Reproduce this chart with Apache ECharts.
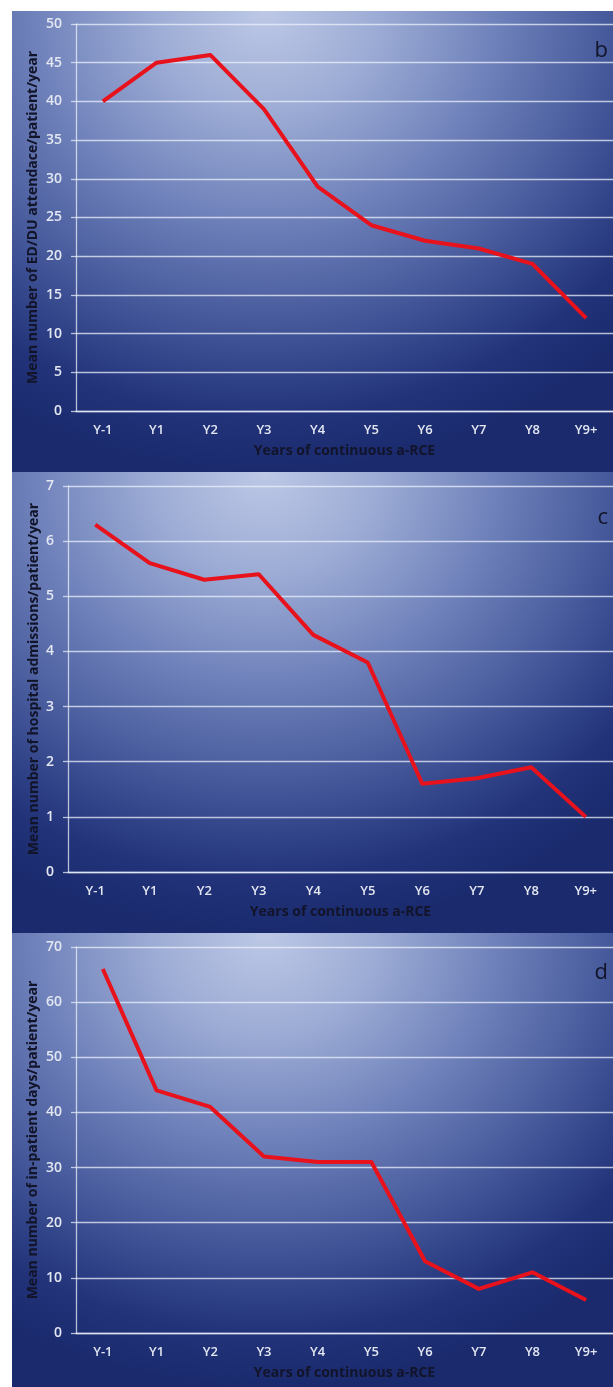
<!DOCTYPE html>
<html>
<head>
<meta charset="utf-8">
<script src="https://cdn.jsdelivr.net/npm/echarts@6/dist/echarts.min.js"></script>
<style>
  html, body { margin: 0; padding: 0; background: #ffffff; width: 613px; height: 1387px; overflow: hidden; }
  .panel { position: absolute; left: 12px; width: 601px;
    background: radial-gradient(ellipse 85% 100% at 42% 0%, #bdc8e6 0%, #9dacd5 22%, #7082bb 45%, #45589a 68%, #22337a 88%, #1a2a6d 100%); }
  #pb { top: 11px; height: 461px; }
  #pc { top: 472px; height: 461px; }
  #pd { top: 933px; height: 454px; }
</style>
</head>
<body>
<div id="pb" class="panel"></div>
<div id="pc" class="panel"></div>
<div id="pd" class="panel"></div>
<script>
const categories = ['Y-1', 'Y1', 'Y2', 'Y3', 'Y4', 'Y5', 'Y6', 'Y7', 'Y8', 'Y9+'];
const edVisits = [40, 45, 46, 39, 29, 24, 22, 21, 19, 12];
const admissions = [6.3, 5.6, 5.3, 5.4, 4.3, 3.8, 1.6, 1.7, 1.9, 1.0];
const inpatientDays = [66, 44, 41, 32, 31, 31, 13, 8, 11, 6];
const xTitle = 'Years of continuous a-RCE';
const panels = [
  { id: 'pb', letter: 'b', data: edVisits, max: 50, interval: 5,
    yTitle: 'Mean number of ED/DU attendace/patient/year',
    grid: { left: 64, right: -4, top: 13, bottom: 61 }, nameGap: 36, letterY: 29 },
  { id: 'pc', letter: 'c', data: admissions, max: 7, interval: 1,
    yTitle: 'Mean number of hospital admissions/patient/year',
    grid: { left: 56, right: -3, top: 14, bottom: 61 }, nameGap: 27, letterY: 35 },
  { id: 'pd', letter: 'd', data: inpatientDays, max: 70, interval: 10,
    yTitle: 'Mean number of in-patient days/patient/year',
    grid: { left: 64, right: -4, top: 14, bottom: 54 }, nameGap: 36, letterY: 29 }
];
const FONT = '"Open Sans", "Noto Sans", sans-serif';
const lineCol = 'rgba(235,240,250,0.75)';
panels.forEach(p => {
  const chart = echarts.init(document.getElementById(p.id), null, { renderer: 'canvas' });
  chart.setOption({
    animation: false,
    backgroundColor: 'transparent',
    grid: p.grid,
    graphic: [{
      type: 'text', right: 5, top: p.letterY,
      style: { text: p.letter, font: '22px ' + FONT, fill: '#121428' }
    }],
    xAxis: {
      type: 'category', data: categories, boundaryGap: true,
      axisLine: { show: true, lineStyle: { color: lineCol, width: 1.3 } },
      axisTick: { show: false },
      axisLabel: { color: '#e3e7f2', fontFamily: FONT, fontSize: 13, fontWeight: 600, margin: 13 },
      name: xTitle, nameLocation: 'middle', nameGap: 33, nameMoveOverlap: false,
      nameTextStyle: { color: '#12142a', fontFamily: FONT, fontSize: 14, fontWeight: 'bold' }
    },
    yAxis: {
      type: 'value', min: 0, max: p.max, interval: p.interval,
      axisLine: { show: true, lineStyle: { color: lineCol, width: 1.3 } },
      axisTick: { show: true, length: 5, inside: false, lineStyle: { color: lineCol, width: 1.3 } },
      splitLine: { show: true, lineStyle: { color: lineCol, width: 1.3 } },
      axisLabel: { color: '#e3e7f2', fontFamily: FONT, fontSize: 14, fontWeight: 600, margin: 14 },
      name: p.yTitle, nameLocation: 'middle', nameRotate: 90, nameGap: p.nameGap, nameMoveOverlap: false,
      nameTextStyle: { color: '#12142a', fontFamily: FONT, fontSize: 14, fontWeight: 'bold' }
    },
    series: [{
      type: 'line', data: p.data, symbol: 'none',
      lineStyle: { color: '#e8121c', width: 4, join: 'round' }
    }]
  });
});
</script>
</body>
</html>
